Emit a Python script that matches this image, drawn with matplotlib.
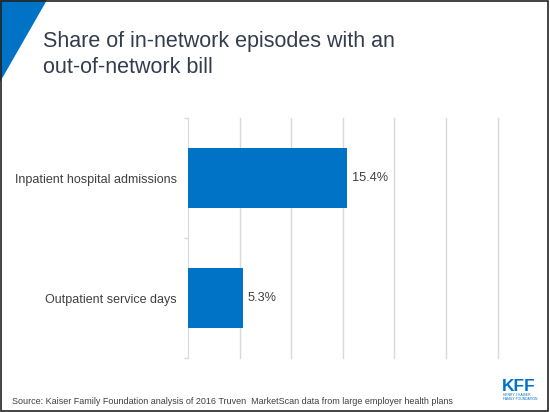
import matplotlib
matplotlib.use("Agg")
import matplotlib.pyplot as plt
from matplotlib.patches import Polygon, Rectangle

categories = ["Inpatient hospital admissions", "Outpatient service days"]
values = [15.4, 5.3]
value_labels = ["15.4%", "5.3%"]
title_lines = ["Share of in-network episodes with an", "out-of-network bill"]
source = "Source: Kaiser Family Foundation analysis of 2016 Truven  MarketScan data from large employer health plans"

W, H = 550, 412
plt.rcParams['font.family'] = ['Liberation Sans', 'DejaVu Sans']
fig = plt.figure(figsize=(W/100, H/100), dpi=100)
fig.patch.set_facecolor('white')

def fx(px): return px / W
def fy(py): return 1 - py / H

BLUE = "#0073c6"
TXT = "#404040"

ax = fig.add_axes([fx(188), fy(358), fx(497.6) - fx(188), fy(118) - fy(358)])
y = list(range(len(categories)))
ax.barh(y, values, height=0.5, color=BLUE, zorder=3)
ax.set_xlim(0, 30)
ax.set_ylim(1.5, -0.5)
ax.set_xticks([5, 10, 15, 20, 25, 30])
ax.xaxis.grid(True, color="#d9d9d9", linewidth=1)
for gl in ax.get_xgridlines():
    gl.set_clip_on(False)
ax.tick_params(axis='x', length=0, labelbottom=False)
ax.set_yticks(y)
ax.set_yticklabels(categories, fontsize=9, color=TXT)
ax.tick_params(axis='y', which='major', length=0, pad=8)
ax.set_yticks([-0.5, 0.5, 1.5], minor=True)
ax.tick_params(axis='y', which='minor', length=3, color="#d9d9d9", width=1)
for s in ['top', 'right', 'bottom']:
    ax.spines[s].set_visible(False)
ax.spines['left'].set_color("#d9d9d9")
ax.set_axisbelow(True)

for yi, v, lab in zip(y, values, value_labels):
    ax.annotate(lab, (v, yi), xytext=(5, 0), textcoords='offset pixels',
                va='center', ha='left', fontsize=9.2, color=TXT)

# title
for i, line in enumerate(title_lines):
    fig.text(fx(43), fy(47 + 26 * i), line, fontsize=15.5, color="#333d4d",
             va='baseline', ha='left')

# corner triangle
fig.patches.append(Polygon([[0, 1], [fx(47), 1], [0, fy(82)]], closed=True,
                           transform=fig.transFigure, facecolor=BLUE, edgecolor='none'))

# source
fig.text(fx(11.5), fy(401), source, fontsize=6.5, color=TXT, va='center', ha='left')

# KFF logo
fig.text(fx(502), fy(391), "KFF", fontsize=12.5, fontweight='bold', color=BLUE,
         va='baseline', ha='left')
fig.text(fx(503), fy(393.5), "HENRY J KAISER", fontsize=2.4,
         color=BLUE, va='top', ha='left')
fig.text(fx(503), fy(397.5), "FAMILY FOUNDATION", fontsize=2.4,
         color=BLUE, va='top', ha='left')

# frame
fig.patches.append(Rectangle((fx(0.5), fy(410.5)), fx(548) - fx(0.5), fy(0.5) - fy(410.5),
                             transform=fig.transFigure, fill=False,
                             edgecolor='#222222', linewidth=1.2))

fig.savefig("out.png", dpi=100, facecolor='white')
